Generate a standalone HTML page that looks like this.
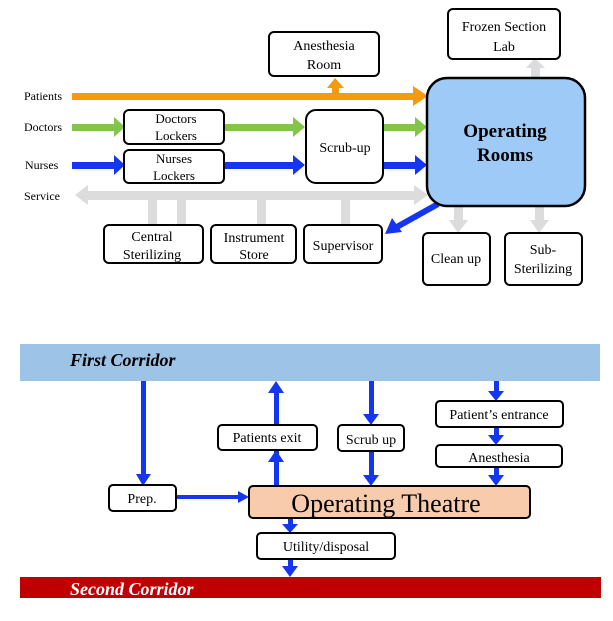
<!DOCTYPE html>
<html><head><meta charset="utf-8"><style>
body{margin:0;background:#fff;}
svg text{font-family:"Liberation Serif",serif;}
</style></head><body>
<svg width="613" height="616" viewBox="0 0 613 616" xmlns="http://www.w3.org/2000/svg">
<defs>
<marker id="ob" markerWidth="4" markerHeight="4" refX="2" refY="2" orient="auto" markerUnits="strokeWidth"><path d="M0,0L2,2L0,4z" fill="#f79a10"/></marker>
</defs>
<!-- gray service arrows -->
<g fill="#dcdcdc">
<rect x="86" y="191" width="330" height="9"/>
<polygon points="75,195 88,185 88,205"/>
<polygon points="428,195 414,185 414,205"/>
<rect x="148" y="195" width="9" height="30"/>
<rect x="177" y="195" width="9" height="30"/>
<rect x="257" y="195" width="9" height="30"/>
<rect x="341" y="195" width="9" height="30"/>
<rect x="454" y="205" width="9" height="16"/><polygon points="449,220 468,220 458,233"/>
<rect x="535" y="205" width="9" height="16"/><polygon points="530,220 549,220 539,233"/>
<rect x="531" y="66" width="9" height="12"/><polygon points="526,68 545,68 535,58"/>
</g>
<!-- orange -->
<rect x="72" y="93" width="343" height="7" fill="#f79a10"/>
<polygon points="428,96 413,86 413,106" fill="#f79a10"/>
<rect x="332" y="86" width="7" height="10" fill="#f79a10"/><polygon points="327,88 344,88 335,78" fill="#f79a10"/>
<!-- green -->
<g fill="#82c54a">
<rect x="72" y="124" width="43" height="7"/><polygon points="125,127 114,117 114,137"/>
<rect x="224" y="124" width="70" height="7"/><polygon points="305,127 293,117 293,137"/>
<rect x="383" y="124" width="33" height="7"/><polygon points="427,127 415,117 415,137"/>
</g>
<g fill="#1536f0">
<rect x="72" y="162" width="43" height="7"/><polygon points="125,165 114,155 114,175"/>
<rect x="224" y="162" width="70" height="7"/><polygon points="305,165 293,155 293,175"/>
<rect x="383" y="162" width="33" height="7"/><polygon points="427,165 415,155 415,175"/>
</g>
<line x1="438" y1="204" x2="395" y2="228" stroke="#1536f0" stroke-width="6"/>
<polygon points="385,234 392,218 402,232" fill="#1536f0"/>
<!-- boxes top -->
<g fill="#fff" stroke="#000" stroke-width="2">
<rect x="448" y="9" width="112" height="50" rx="5"/>
<rect x="269" y="32" width="110" height="44" rx="5"/>
<rect x="124" y="110" width="100" height="34" rx="5"/>
<rect x="124" y="150" width="100" height="33" rx="5"/>
<rect x="306" y="110" width="77" height="73" rx="10"/>
<rect x="104" y="225" width="99" height="38" rx="5"/>
<rect x="211" y="225" width="85" height="38" rx="5"/>
<rect x="304" y="225" width="78" height="38" rx="5"/>
<rect x="423" y="233" width="67" height="52" rx="5"/>
<rect x="505" y="233" width="77" height="52" rx="5"/>
</g>
<rect x="427" y="78" width="158" height="128" rx="20" fill="#9dcaf7" stroke="#000" stroke-width="2.5"/>
<g font-size="14" text-anchor="middle" fill="#000">
<text x="504" y="31">Frozen Section</text><text x="504" y="51">Lab</text>
<text x="324" y="50">Anesthesia</text><text x="324" y="69">Room</text>
<text x="176" y="123" font-size="13">Doctors</text><text x="176" y="140" font-size="13">Lockers</text>
<text x="174" y="163" font-size="13">Nurses</text><text x="174" y="180" font-size="13">Lockers</text>
<text x="345" y="152">Scrub-up</text>
<text x="152" y="241">Central</text><text x="152" y="259">Sterilizing</text>
<text x="254" y="242">Instrument</text><text x="254" y="259">Store</text>
<text x="343" y="250">Supervisor</text>
<text x="456" y="263">Clean up</text>
<text x="543" y="254">Sub-</text><text x="543" y="273">Sterilizing</text>
<text x="505" y="137" font-size="19" font-weight="bold">Operating</text>
<text x="505" y="161" font-size="19" font-weight="bold">Rooms</text>
</g>
<g font-size="12" fill="#000">
<text x="24" y="100">Patients</text><text x="24" y="131">Doctors</text>
<text x="25" y="169">Nurses</text><text x="24" y="200">Service</text>
</g>
<!-- bottom -->
<rect x="20" y="344" width="580" height="37" fill="#9dc3e6"/>
<text x="70" y="366" font-size="18" font-weight="bold" font-style="italic">First Corridor</text>
<rect x="20" y="577" width="581" height="21" fill="#c00000"/>
<text x="70" y="595" font-size="18" font-weight="bold" font-style="italic" fill="#fff">Second Corridor</text>
<g fill="#1536f0">
<rect x="141" y="381" width="5" height="95"/><polygon points="136,474 151,474 143,486"/>
<rect x="176" y="495" width="63" height="4"/><polygon points="249,497 238,491 238,503"/>
<rect x="274" y="440" width="5" height="46"/><polygon points="268,462 284,462 276,450"/>
<rect x="274" y="390" width="5" height="35"/><polygon points="268,393 284,393 276,381"/>
<rect x="369" y="381" width="5" height="35"/><polygon points="363,414 379,414 371,425"/>
<rect x="369" y="451" width="5" height="25"/><polygon points="363,475 379,475 371,486"/>
<rect x="494" y="381" width="5" height="12"/><polygon points="488,391 504,391 496,401"/>
<rect x="494" y="427" width="5" height="10"/><polygon points="488,435 504,435 496,445"/>
<rect x="494" y="467" width="5" height="10"/><polygon points="488,475 504,475 496,486"/>
<rect x="288" y="518" width="5" height="8"/><polygon points="282,524 298,524 290,533"/>
<rect x="288" y="559" width="5" height="9"/><polygon points="282,566 298,566 290,577"/>
</g>
<g fill="#fff" stroke="#000" stroke-width="2">
<rect x="109" y="485" width="67" height="26" rx="4"/>
<rect x="218" y="425" width="99" height="25" rx="4"/>
<rect x="338" y="425" width="66" height="26" rx="4"/>
<rect x="436" y="401" width="127" height="26" rx="4"/>
<rect x="436" y="445" width="126" height="22" rx="4"/>
<rect x="257" y="533" width="138" height="26" rx="4"/>
</g>
<rect x="249" y="486" width="281" height="32" rx="4" fill="#f8cbad" stroke="#000" stroke-width="2"/>
<g font-size="14" text-anchor="middle" fill="#000">
<text x="142" y="503">Prep.</text>
<text x="267" y="442">Patients exit</text>
<text x="371" y="444">Scrub up</text>
<text x="499" y="419">Patient’s entrance</text>
<text x="499" y="462">Anesthesia</text>
<text x="326" y="551">Utility/disposal</text>
<text x="386" y="512" font-size="26">Operating Theatre</text>
</g>
</svg>
</body></html>
